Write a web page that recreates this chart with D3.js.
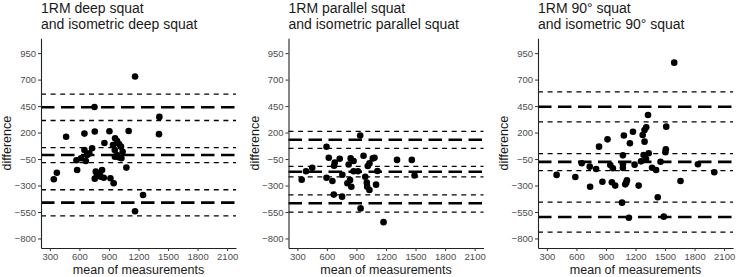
<!DOCTYPE html>
<html>
<head>
<meta charset="utf-8">
<script src="https://cdn.jsdelivr.net/npm/d3@7"></script>
<style>
  body { margin: 0; background: #fff; }
  text { font-family: "Liberation Sans", Arial, sans-serif; }
</style>
</head>
<body>
<div id="chart"></div>
<script>
// tick labels shared by all three panels
const xTicks = [300, 600, 900, 1200, 1500, 1800, 2100];
const yTicks = [-800, -550, -300, -50, 200, 450, 700, 950];

const titles = [
    ["1RM deep squat", "and isometric deep squat"],
    ["1RM parallel squat", "and isometric parallel squat"],
    ["1RM 90\u00B0 squat", "and isometric 90\u00B0 squat"]
];

// deep squat: mean of the two measures and their difference
const deepMean = [1165, 753, 465, 651, 756, 905, 1100, 1412, 1408, 962, 982, 854, 1002, 941, 1022, 729, 651, 959, 678, 982,
    999, 617, 570, 1026, 665, 1077, 577, 371, 340, 766, 779, 830, 813, 847, 915, 948, 756, 807, 1246, 1165, 1039, 700, 960];
const deepDiff = [730, 442, 160, 190, 210, 212, 215, 348, 185, 146, 120, 102, 92, 83, 67, 52, 36, 36, -12, -12,
    -33, -43, -62, -43, -68, -131, -153, -179, -241, -169, -200, -153, -216, -226, -232, -279, -235, -185, -389, -543, 19, 3, -28];
// bias and limits of agreement (thick) with their confidence bounds (thin)
const deepLimits = [439, -12, -462];
const deepBounds = [562, 314, 58, -84, -340, -586];

// parallel squat
const parMean = [938, 596, 619, 680, 730, 673, 841, 871, 821, 972, 1066, 1083, 1032, 1015, 1113, 915, 871, 1312, 1462, 1490,
    388, 451, 344, 596, 656, 757, 808, 835, 848, 989, 1005, 1009, 1032, 1099, 670, 754, 942, 1175];
const parDiff = [172, 66, -38, -82, -47, -113, -44, -69, -101, -19, -44, -38, -91, -116, -163, -166, -166, -58, -58, -205,
    -166, -132, -246, -226, -257, -198, -279, -248, -311, -217, -273, -311, -342, -292, -386, -405, -516, -646];
const parLimits = [132, -170, -467];
const parBounds = [212, 50, -120, -218, -388, -551];

// 90 degree squat
const ninMean = [1593, 1327, 1512, 1309, 1292, 1273, 1174, 1082, 916, 1143, 1292, 830, 1508, 1504, 1334, 1282, 1307, 1072, 1072, 1072,
    1454, 1256, 944, 970, 1191, 1368, 1409, 654, 735, 800, 399, 589, 739, 864, 960, 994, 1106, 1113, 1096, 1232,
    1426, 1063, 1133, 1487, 1657, 1834, 2000];
const ninDiff = [860, 366, 256, 250, 224, 177, 208, 172, 136, 99, 114, 67, 42, 15, 4, -12, -49, -15, -100, -135,
    -75, -72, -106, -137, -103, -132, -153, -90, -122, -144, -200, -219, -311, -264, -269, -301, -273, -251, -289, -301,
    -411, -462, -604, -594, -257, -99, -175];
const ninLimits = [443, -77, -597];
const ninBounds = [585, 300, 1, -160, -457, -741];

const panels = [
    { title: titles[0], mean: deepMean, diff: deepDiff, limits: deepLimits, bounds: deepBounds },
    { title: titles[1], mean: parMean, diff: parDiff, limits: parLimits, bounds: parBounds },
    { title: titles[2], mean: ninMean, diff: ninDiff, limits: ninLimits, bounds: ninBounds }
];

const svg = d3.select("#chart").append("svg")
    .attr("width", 736)
    .attr("height", 277);

const panelLeft = [41, 288.5, 538];
const panelTop = 38.3;
const panelWidth = 195;
const panelHeight = 209.7;

// same limits in every panel (ggplot style 5% expansion)
const x = d3.scaleLinear().domain([210, 2190]).range([0, panelWidth]);
const y = d3.scaleLinear().domain([-890, 1090]).range([panelHeight, 0]);

panels.forEach((p, i) => {
    const g = svg.append("g")
        .attr("transform", `translate(${panelLeft[i]},${panelTop})`);

    // thin short dashed lines: confidence bounds
    g.selectAll(".bound")
        .data(p.bounds)
        .enter()
        .append("line")
        .attr("class", "bound")
        .attr("x1", 0)
        .attr("x2", panelWidth)
        .attr("y1", d => y(d))
        .attr("y2", d => y(d))
        .attr("stroke", "#000")
        .attr("stroke-width", 1.3)
        .attr("stroke-dasharray", "5 4.6");

    // thick long dashed lines: bias and limits
    g.selectAll(".limit")
        .data(p.limits)
        .enter()
        .append("line")
        .attr("class", "limit")
        .attr("x1", 0)
        .attr("x2", panelWidth)
        .attr("y1", d => y(d))
        .attr("y2", d => y(d))
        .attr("stroke", "#000")
        .attr("stroke-width", 2.6)
        .attr("stroke-dasharray", "13.5 6.5");

    g.selectAll(".pt")
        .data(p.mean.map((m, k) => [m, p.diff[k]]))
        .enter()
        .append("circle")
        .attr("class", "pt")
        .attr("cx", d => x(d[0]))
        .attr("cy", d => y(d[1]))
        .attr("r", 3.3)
        .attr("fill", "#000");

    const xAxis = g.append("g")
        .attr("transform", `translate(0,${panelHeight})`)
        .call(d3.axisBottom(x).tickValues(xTicks).tickFormat(d3.format("d"))
            .tickSize(3).tickSizeOuter(0).tickPadding(2));
    const yAxis = g.append("g")
        .call(d3.axisLeft(y).tickValues(yTicks).tickFormat(d3.format("d"))
            .tickSize(3).tickSizeOuter(0).tickPadding(2));

    [xAxis, yAxis].forEach(a => {
        a.select(".domain").attr("stroke", "#222").attr("stroke-width", 1.1);
        a.selectAll(".tick line").attr("stroke", "#333");
        a.selectAll(".tick text")
            .attr("fill", "#4D4D4D")
            .style("font-size", "9.5px")
            .style("font-family", "'Liberation Sans', Arial, sans-serif");
    });

    // two line title
    g.append("text")
        .attr("x", 0)
        .attr("y", 12.5 - panelTop)
        .style("font-size", "14px")
        .attr("fill", "#1a1a1a")
        .text(p.title[0]);
    g.append("text")
        .attr("x", 0)
        .attr("y", 28.5 - panelTop)
        .style("font-size", "14px")
        .attr("fill", "#1a1a1a")
        .text(p.title[1]);

    g.append("text")
        .attr("x", panelWidth / 2)
        .attr("y", 274 - panelTop)
        .attr("text-anchor", "middle")
        .style("font-size", "12.5px")
        .attr("fill", "#1a1a1a")
        .text("mean of measurements");

    g.append("text")
        .attr("transform", "rotate(-90)")
        .attr("x", -panelHeight / 2)
        .attr("y", -30)
        .attr("text-anchor", "middle")
        .style("font-size", "12.5px")
        .attr("fill", "#1a1a1a")
        .text("difference");
});
</script>
</body>
</html>
